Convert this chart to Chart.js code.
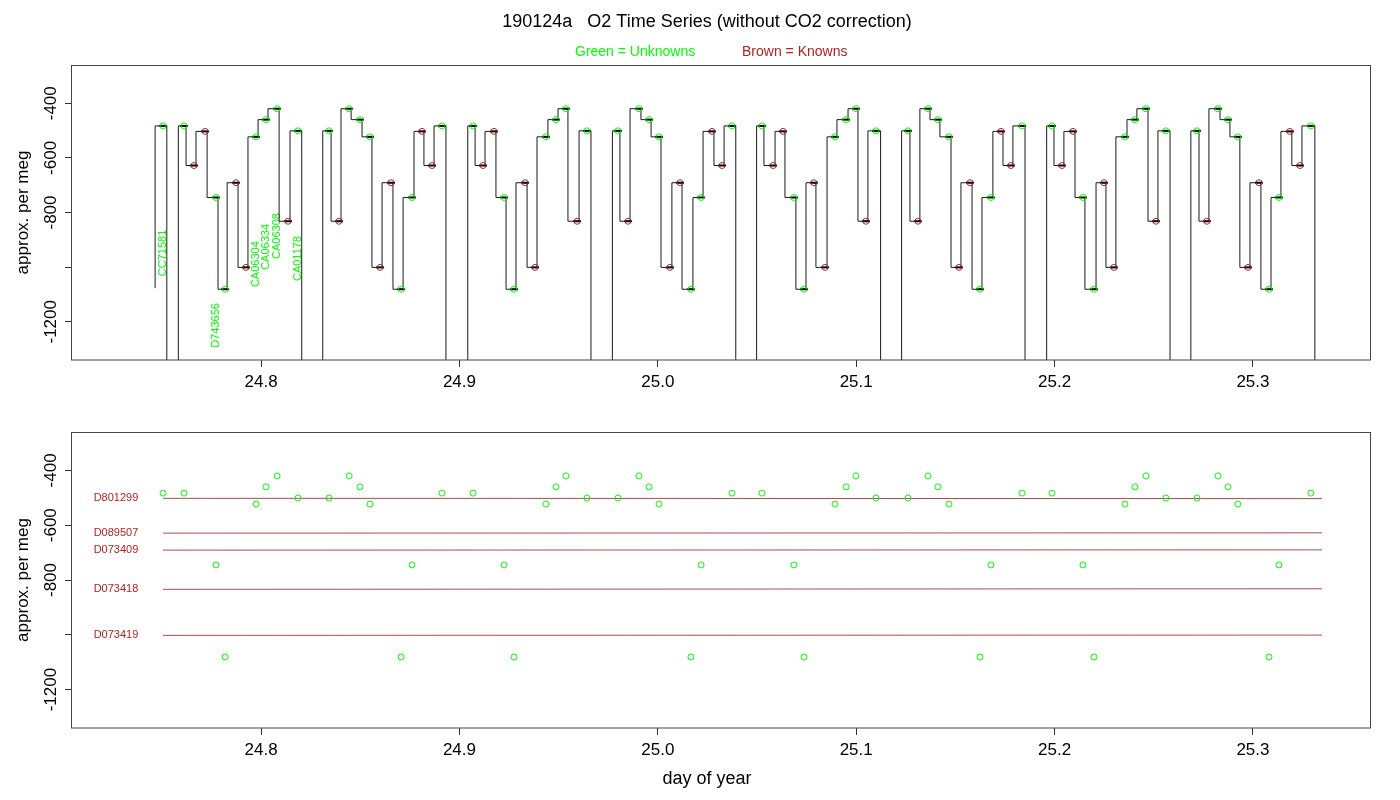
<!DOCTYPE html>
<html>
<head>
<meta charset="utf-8">
<script src="https://cdn.jsdelivr.net/npm/chart.js@4.4.1/dist/chart.umd.min.js"></script>
<style>
html,body{margin:0;padding:0;background:#fff;}
#wrap{position:relative;width:1400px;height:800px;background:#fff;}
canvas{position:absolute;left:0;}
#c1{top:0;}
#c2{top:400px;}
</style>
</head>
<body>
<div id="wrap">
<canvas id="c1" width="1400" height="400"></canvas>
<canvas id="c2" width="1400" height="400"></canvas>
</div>
<script>
// ---------------- data ----------------
const xTicks = [24.8, 24.9, 25.0, 25.1, 25.2, 25.3];
const yTicks = [-400, -600, -800, -1000, -1200];
const yTickLabels = ['-400', '-600', '-800', '', '-1200'];
const xRange = [24.7047, 25.3590];
const yRange = [-1340, -260];

// end-of-plateau sample times (day of year)
const sampleDays = [
  24.7506,
  24.7612, 24.7662, 24.7718, 24.7773, 24.7819, 24.7874, 24.7924, 24.7975, 24.8025, 24.8081, 24.8136, 24.8186,
  24.8343, 24.8393, 24.8444, 24.8499, 24.8549, 24.8600, 24.8655, 24.8706, 24.8761, 24.8811, 24.8862, 24.8912,
  24.9069, 24.9119, 24.9174, 24.9225, 24.9275, 24.9331, 24.9381, 24.9436, 24.9487, 24.9537, 24.9593, 24.9643,
  24.9799, 24.9850, 24.9905, 24.9956, 25.0006, 25.0061, 25.0112, 25.0167, 25.0218, 25.0273, 25.0324, 25.0374,
  25.0525, 25.0581, 25.0631, 25.0686, 25.0737, 25.0787, 25.0843, 25.0893, 25.0949, 25.0999, 25.1049, 25.1100,
  25.1261, 25.1311, 25.1362, 25.1412, 25.1468, 25.1518, 25.1574, 25.1624, 25.1679, 25.1730, 25.1780, 25.1836,
  25.1987, 25.2037, 25.2093, 25.2143, 25.2199, 25.2249, 25.2299, 25.2355, 25.2405, 25.2461, 25.2511, 25.2561,
  25.2718, 25.2768, 25.2824, 25.2874, 25.2924, 25.2975, 25.3030, 25.3081, 25.3131, 25.3186, 25.3237, 25.3292
];
// plateau values (per meg)
const sampleValues = [
  -483,
  -483, -628, -503, -745, -1081, -691, -1001, -523, -460, -420, -832, -501,
  -501, -832, -420, -460, -523, -1001, -691, -1081, -745, -503, -628, -483,
  -483, -628, -503, -745, -1081, -691, -1001, -523, -460, -420, -832, -501,
  -501, -832, -420, -460, -523, -1001, -691, -1081, -745, -503, -628, -483,
  -483, -628, -503, -745, -1081, -691, -1001, -523, -460, -420, -832, -501,
  -501, -832, -420, -460, -523, -1001, -691, -1081, -745, -503, -628, -483,
  -483, -628, -503, -745, -1081, -691, -1001, -523, -460, -420, -832, -501,
  -501, -832, -420, -460, -523, -1001, -691, -1081, -745, -503, -628, -483
];
// U = unknown (green), K = known (brown)
const sampleKinds = [
  'U',
  'U','K','K','U','U','K','K','U','U','U','K','U',
  'U','K','U','U','U','K','K','U','U','K','K','U',
  'U','K','K','U','U','K','K','U','U','U','K','U',
  'U','K','U','U','U','K','K','U','U','K','K','U',
  'U','K','K','U','U','K','K','U','U','U','K','U',
  'U','K','U','U','U','K','K','U','U','K','K','U',
  'U','K','K','U','U','K','K','U','U','U','K','U',
  'U','K','U','U','U','K','K','U','U','K','K','U'
];
// trace start and flush (deep drop) events
const traceStartDay = 24.7466;
const traceStartValue = -1077;
const flushDropDays   = [24.7525, 24.8205, 24.8932, 24.9663, 25.0393, 25.1123, 25.1851, 25.2582, 25.3312];
const flushReturnDays = [24.7583, 24.8311, 24.9042, 24.9771, 25.0498, 25.1229, 25.1960, 25.2687, 25.3320];
const flushFloor = -2600;

// labels of unknowns in the top panel
const labelNames  = ['CC71581', 'D743656', 'CA06304', 'CA06334', 'CA06308', 'CA01178'];
const labelDays   = [24.7506, 24.7773, 24.7975, 24.8025, 24.8081, 24.8186];
const labelValues = [-483, -745, -523, -460, -420, -501];

// known tanks reference lines (bottom panel)
const knownNames = ['D801299', 'D089507', 'D073409', 'D073418', 'D073419'];
const knownLineDays = [24.7506, 25.3348];
const knownStartValues = [-502, -629, -691, -834, -1002];
const knownEndValues   = [-503, -628, -690, -832, -1001];

// ---------------- styling ----------------
const FONT = "'Liberation Sans', Arial, Helvetica, sans-serif";
const GREEN = '#00FF00';
const BROWN = '#A52A2A';
const BROWN_TXT = '#B22222';
const stepLag = 0.0010;
const labelOffset = 550;

// ---------------- build data ----------------
const trace = [{x: traceStartDay, y: traceStartValue}];
let f = 0;
for (let i = 0; i < sampleDays.length; i++) {
  trace.push({x: sampleDays[i] + stepLag, y: sampleValues[i]});
  const last = i === sampleDays.length - 1;
  if (f < flushDropDays.length && (last || sampleDays[i + 1] > flushDropDays[f])) {
    trace.push({x: flushDropDays[f], y: sampleValues[i]});
    trace.push({x: flushReturnDays[f], y: flushFloor});
    f++;
  }
}
const allPts = sampleDays.map((d, i) => ({x: d, y: sampleValues[i]}));
const unknownPts = allPts.filter((p, i) => sampleKinds[i] === 'U');
const knownPts = allPts.filter((p, i) => sampleKinds[i] === 'K');

// ---------------- helpers ----------------
function axisOpts(xHeight) {
  return {
    x: {
      type: 'linear', min: xRange[0], max: xRange[1],
      afterBuildTicks: s => { s.ticks = xTicks.map(v => ({value: v})); },
      afterFit: s => { s.height = xHeight; },
      grid: {drawOnChartArea: false, drawTicks: true, tickLength: 7, color: '#333', lineWidth: 1},
      border: {display: false},
      ticks: {font: {family: FONT, size: 17}, color: '#000', padding: 5, maxRotation: 0, autoSkip: false,
              callback: v => Number(v).toFixed(1)}
    },
    y: {
      type: 'linear', min: yRange[0], max: yRange[1],
      afterBuildTicks: s => { s.ticks = yTicks.map(v => ({value: v})); },
      afterFit: s => { s.width = 72; },
      grid: {drawOnChartArea: false, drawTicks: true, tickLength: 7, color: '#333', lineWidth: 1},
      border: {display: false},
      ticks: {display: false}
    }
  };
}

function drawFrame(chart) {
  const {ctx, chartArea: a} = chart;
  const ys = chart.scales.y;
  ctx.save();
  ctx.strokeStyle = '#444';
  ctx.lineWidth = 1;
  ctx.strokeRect(Math.round(a.left) - 0.5, Math.round(a.top) + 0.5, Math.round(a.right - a.left) + 1, Math.round(a.bottom - a.top) - 0.5);
  ctx.fillStyle = '#000';
  ctx.font = '17px ' + FONT;
  ctx.textAlign = 'center';
  ctx.textBaseline = 'middle';
  yTicks.forEach((v, i) => {
    if (!yTickLabels[i]) return;
    ctx.save();
    ctx.translate(51, ys.getPixelForValue(v));
    ctx.rotate(-Math.PI / 2);
    ctx.fillText(yTickLabels[i], 0, 0);
    ctx.restore();
  });
  ctx.save();
  ctx.translate(23, (a.top + a.bottom) / 2);
  ctx.rotate(-Math.PI / 2);
  ctx.font = '17px ' + FONT;
  ctx.fillText('approx. per meg', 0, 0);
  ctx.restore();
  ctx.restore();
}

const topPlugin = {
  id: 'topPanel',
  beforeDatasetsDraw(chart) {
    const {ctx, chartArea: a} = chart;
    const xs = chart.scales.x, ys = chart.scales.y;
    ctx.save();
    ctx.beginPath();
    ctx.rect(a.left, a.top, a.right - a.left, a.bottom - a.top);
    ctx.clip();
    ctx.fillStyle = GREEN;
    ctx.font = '11px ' + FONT;
    ctx.textAlign = 'left';
    ctx.textBaseline = 'middle';
    labelNames.forEach((n, i) => {
      ctx.save();
      ctx.translate(xs.getPixelForValue(labelDays[i]), ys.getPixelForValue(labelValues[i] - labelOffset));
      ctx.rotate(-Math.PI / 2);
      ctx.fillText(n, 0, 0);
      ctx.restore();
    });
    ctx.restore();
  },
  afterDraw(chart) {
    drawFrame(chart);
    const ctx = chart.ctx;
    ctx.save();
    ctx.fillStyle = '#000';
    ctx.font = '18px ' + FONT;
    ctx.textAlign = 'center';
    ctx.textBaseline = 'middle';
    ctx.fillText('190124a   O2 Time Series (without CO2 correction)', 707, 22);
    ctx.font = '14px ' + FONT;
    ctx.textAlign = 'left';
    ctx.fillStyle = GREEN;
    ctx.fillText('Green = Unknowns', 575, 52);
    ctx.fillStyle = BROWN_TXT;
    ctx.fillText('Brown = Knowns', 742, 52);
    ctx.restore();
  }
};

const bottomPlugin = {
  id: 'bottomPanel',
  afterDraw(chart) {
    drawFrame(chart);
    const ctx = chart.ctx;
    const ys = chart.scales.y;
    ctx.save();
    ctx.fillStyle = BROWN_TXT;
    ctx.font = '11px ' + FONT;
    ctx.textAlign = 'center';
    ctx.textBaseline = 'middle';
    knownNames.forEach((n, i) => {
      ctx.fillText(n, 116, ys.getPixelForValue(knownStartValues[i]));
    });
    ctx.fillStyle = '#000';
    ctx.font = '18px ' + FONT;
    ctx.fillText('day of year', 707, 379);
    ctx.restore();
  }
};

const common = {
  responsive: false,
  animation: false,
  devicePixelRatio: 1,
  events: [],
  plugins: {legend: {display: false}, tooltip: {enabled: false}, title: {display: false}}
};

// ---------------- top chart ----------------
new Chart(document.getElementById('c1'), {
  type: 'line',
  data: {
    datasets: [
      {label: 'Unknowns', data: unknownPts, showLine: false, pointRadius: 3, pointBorderWidth: 1,
       pointBorderColor: GREEN, pointBackgroundColor: 'rgba(0,0,0,0)'},
      {label: 'Knowns', data: knownPts, showLine: false, pointRadius: 3, pointBorderWidth: 1,
       pointBorderColor: BROWN, pointBackgroundColor: 'rgba(0,0,0,0)'},
      {label: 'averaged', data: allPts, showLine: false, pointStyle: 'line', pointRadius: 4, pointBorderWidth: 2,
       pointBorderColor: '#000'},
      {label: 'O2 trace', data: trace, stepped: 'after', borderColor: 'rgba(0,0,0,0.9)', borderWidth: 1,
       pointRadius: 0, fill: false}
    ]
  },
  options: Object.assign({}, common, {
    layout: {padding: {left: 0, right: 30, top: 65, bottom: 0}},
    scales: axisOpts(40)
  }),
  plugins: [topPlugin]
});

// ---------------- bottom chart ----------------
const knownLineSets = knownNames.map((n, i) => ({
  label: n,
  data: [{x: knownLineDays[0], y: knownStartValues[i]}, {x: knownLineDays[1], y: knownEndValues[i]}],
  borderColor: 'rgba(165,42,42,0.85)', borderWidth: 1, pointRadius: 0, fill: false
}));

new Chart(document.getElementById('c2'), {
  type: 'line',
  data: {
    datasets: [
      {label: 'Unknowns', data: unknownPts, showLine: false, pointRadius: 3, pointBorderWidth: 1,
       pointBorderColor: GREEN, pointBackgroundColor: 'rgba(0,0,0,0)'}
    ].concat(knownLineSets)
  },
  options: Object.assign({}, common, {
    layout: {padding: {left: 0, right: 30, top: 32, bottom: 0}},
    scales: axisOpts(72)
  }),
  plugins: [bottomPlugin]
});
</script>
</body>
</html>
